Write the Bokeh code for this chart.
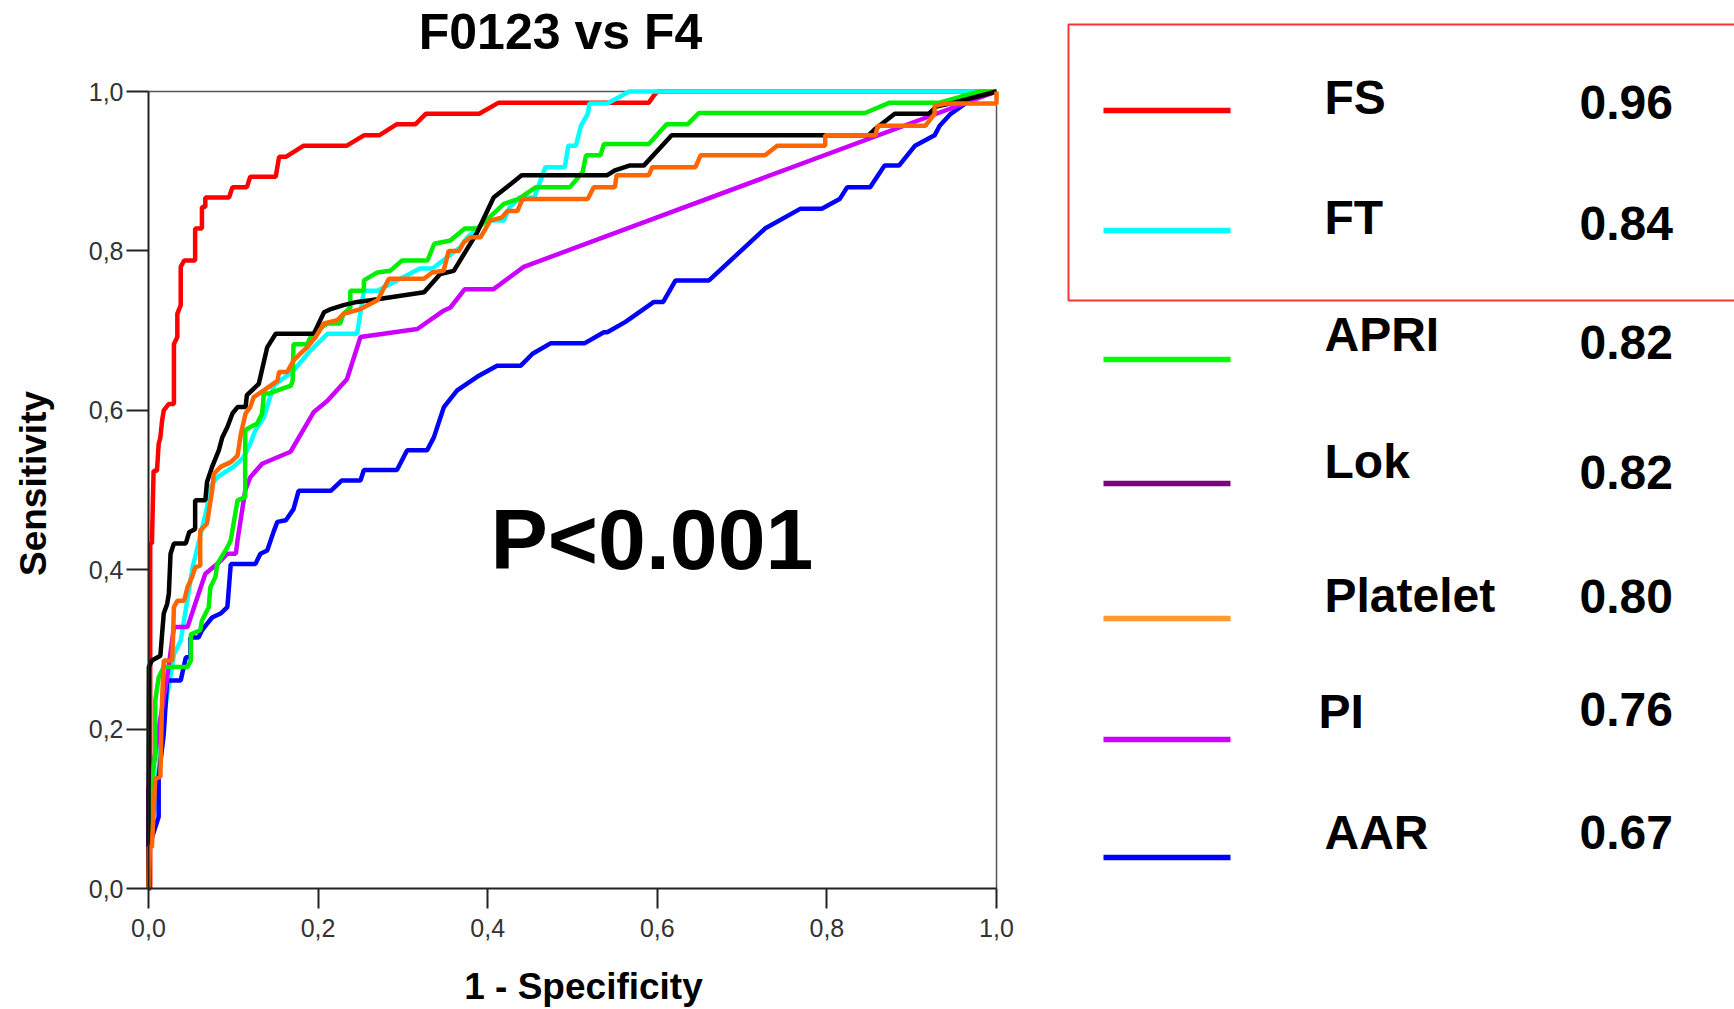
import math
from bokeh.plotting import figure
from bokeh.models import Range1d, FixedTicker, CustomJSTickFormatter, Label
from bokeh.core.properties import value
from bokeh.embed import file_html
from bokeh.resources import INLINE

FONT = "Liberation Sans"

title_text = "F0123 vs F4"
x_label = "1 - Specificity"
y_label = "Sensitivity"
tick_values = [0.0, 0.2, 0.4, 0.6, 0.8, 1.0]
p_value_text = "P<0.001"

names = ["FS", "FT", "APRI", "Lok", "Platelet", "PI", "AAR"]
auc = ["0.96", "0.84", "0.82", "0.82", "0.80", "0.76", "0.67"]
legend_colors = ["#ff0000", "#00ffff", "#00ff00", "#800080", "#ff9933", "#cc00ff", "#0000ff"]

fs_fpr = [0, 0.002, 0.002, 0.004, 0.006, 0.010, 0.012, 0.014, 0.016, 0.018, 0.024, 0.030, 0.030, 0.034, 0.034,
          0.038, 0.038, 0.042, 0.055, 0.055, 0.063, 0.063, 0.067, 0.067, 0.095, 0.099, 0.116, 0.120, 0.150, 0.154,
          0.162, 0.183, 0.234, 0.254, 0.272, 0.293, 0.315, 0.327, 0.390, 0.413, 0.590, 0.596, 0.600, 1.0]
fs_tpr = [0, 0, 0.433, 0.433, 0.524, 0.524, 0.558, 0.566, 0.587, 0.600, 0.608, 0.608, 0.683, 0.692, 0.721,
          0.732, 0.780, 0.788, 0.788, 0.828, 0.828, 0.855, 0.855, 0.867, 0.867, 0.880, 0.880, 0.893, 0.893, 0.918,
          0.918, 0.932, 0.932, 0.945, 0.945, 0.959, 0.959, 0.972, 0.972, 0.986, 0.986, 0.995, 1.0, 1.0]

ft_fpr = [0, 0.0, 0.010, 0.015, 0.025, 0.030, 0.038, 0.052, 0.055, 0.069, 0.073, 0.081, 0.100, 0.112, 0.120,
          0.126, 0.136, 0.142, 0.148, 0.171, 0.191, 0.211, 0.246, 0.254, 0.270, 0.320, 0.335, 0.368, 0.376, 0.398,
          0.419, 0.426, 0.438, 0.455, 0.468, 0.491, 0.495, 0.504, 0.510, 0.518, 0.520, 0.541, 0.567, 1.0]
ft_tpr = [0, 0.05, 0.12, 0.20, 0.26, 0.294, 0.311, 0.403, 0.416, 0.478, 0.504, 0.516, 0.529, 0.541, 0.558,
          0.575, 0.591, 0.612, 0.631, 0.650, 0.675, 0.696, 0.696, 0.750, 0.750, 0.778, 0.778, 0.805, 0.817, 0.838,
          0.838, 0.855, 0.867, 0.867, 0.905, 0.905, 0.932, 0.932, 0.957, 0.972, 0.985, 0.985, 1.0, 1.0]

apri_fpr = [0, 0.003, 0.006, 0.008, 0.008, 0.012, 0.018, 0.046, 0.050, 0.050, 0.061, 0.063, 0.071, 0.073, 0.079,
            0.081, 0.093, 0.097, 0.105, 0.114, 0.114, 0.120, 0.128, 0.134, 0.136, 0.142, 0.152, 0.168, 0.170, 0.171,
            0.187, 0.193, 0.211, 0.226, 0.230, 0.238, 0.238, 0.254, 0.254, 0.270, 0.285, 0.299, 0.329, 0.337, 0.356,
            0.373, 0.388, 0.398, 0.419, 0.436, 0.457, 0.497, 0.512, 0.516, 0.533, 0.537, 0.590, 0.611, 0.636, 0.649,
            0.845, 0.874, 0.933, 0.980, 1.0]
apri_tpr = [0, 0.10, 0.152, 0.170, 0.236, 0.265, 0.278, 0.278, 0.286, 0.319, 0.324, 0.336, 0.353, 0.378, 0.391,
            0.407, 0.428, 0.437, 0.487, 0.491, 0.575, 0.579, 0.583, 0.596, 0.621, 0.621, 0.625, 0.631, 0.637, 0.683,
            0.683, 0.696, 0.709, 0.709, 0.721, 0.729, 0.750, 0.750, 0.763, 0.773, 0.775, 0.788, 0.788, 0.809, 0.813,
            0.828, 0.828, 0.838, 0.859, 0.865, 0.880, 0.880, 0.899, 0.920, 0.920, 0.934, 0.934, 0.959, 0.959, 0.973,
            0.973, 0.986, 0.986, 1.0, 1.0]

lok_fpr = [0, 0.0, 0.0004, 0.004, 0.014, 0.016, 0.018, 0.022, 0.024, 0.026, 0.030, 0.044, 0.048, 0.055, 0.055,
           0.067, 0.069, 0.075, 0.083, 0.087, 0.093, 0.099, 0.105, 0.1145, 0.116, 0.126, 0.130, 0.140, 0.150, 0.195,
           0.207, 0.215, 0.230, 0.246, 0.262, 0.325, 0.344, 0.360, 0.3875, 0.407, 0.425, 0.440, 0.541, 0.550, 0.567,
           0.584, 0.617, 0.849, 0.857, 0.880, 0.920, 0.929, 0.950, 1.0]
lok_tpr = [0, 0.127, 0.278, 0.286, 0.292, 0.319, 0.345, 0.357, 0.370, 0.420, 0.433, 0.433, 0.447, 0.451, 0.487,
           0.487, 0.510, 0.529, 0.550, 0.566, 0.579, 0.596, 0.604, 0.604, 0.619, 0.629, 0.633, 0.679, 0.696, 0.696,
           0.723, 0.727, 0.732, 0.736, 0.738, 0.748, 0.771, 0.775, 0.823, 0.867, 0.882, 0.895, 0.895, 0.901, 0.907,
           0.907, 0.945, 0.945, 0.953, 0.972, 0.972, 0.981, 0.986, 1.0]

plt_fpr = [0, 0.0004, 0.004, 0.008, 0.014, 0.016, 0.018, 0.028, 0.030, 0.034, 0.042, 0.046, 0.0515, 0.055, 0.061,
           0.061, 0.069, 0.075, 0.077, 0.085, 0.097, 0.105, 0.109, 0.1145, 0.120, 0.124, 0.136, 0.152, 0.154, 0.1635,
           0.171, 0.179, 0.187, 0.197, 0.207, 0.2225, 0.230, 0.250, 0.270, 0.2835, 0.325, 0.3345, 0.348, 0.354, 0.366,
           0.372, 0.380, 0.3915, 0.403, 0.417, 0.423, 0.435, 0.441, 0.518, 0.525, 0.550, 0.552, 0.590, 0.594, 0.645,
           0.651, 0.727, 0.7415, 0.798, 0.798, 0.857, 0.860, 0.916, 0.927, 0.927, 0.940, 1.0, 1.0]
plt_tpr = [0, 0.052, 0.052, 0.138, 0.140, 0.236, 0.286, 0.286, 0.353, 0.361, 0.361, 0.378, 0.391, 0.403, 0.405,
           0.449, 0.458, 0.499, 0.520, 0.529, 0.535, 0.543, 0.571, 0.596, 0.604, 0.6165, 0.625, 0.637, 0.648, 0.648,
           0.6625, 0.671, 0.679, 0.692, 0.709, 0.713, 0.721, 0.727, 0.738, 0.765, 0.765, 0.773, 0.775, 0.800, 0.800,
           0.811, 0.817, 0.817, 0.838, 0.842, 0.850, 0.850, 0.865, 0.865, 0.880, 0.880, 0.895, 0.895, 0.905, 0.905,
           0.920, 0.920, 0.932, 0.932, 0.945, 0.945, 0.957, 0.957, 0.972, 0.982, 0.985, 0.985, 1.0]

pi_fpr = [0, 0.0, 0.0, 0.002, 0.008, 0.015, 0.022, 0.030, 0.046, 0.055, 0.067, 0.081, 0.093, 0.103, 0.105,
          0.114, 0.120, 0.134, 0.1675, 0.195, 0.211, 0.234, 0.250, 0.317, 0.348, 0.356, 0.373, 0.407, 0.4425, 1.0]
pi_tpr = [0, 0.056, 0.127, 0.127, 0.170, 0.220, 0.265, 0.328, 0.328, 0.357, 0.395, 0.407, 0.420, 0.420, 0.437,
          0.499, 0.516, 0.533, 0.548, 0.598, 0.612, 0.639, 0.692, 0.702, 0.725, 0.729, 0.752, 0.752, 0.780, 1.0]

aar_fpr = [0, 0.0004, 0.012, 0.012, 0.018, 0.022, 0.038, 0.044, 0.0495, 0.0495, 0.059, 0.063, 0.069, 0.075, 0.085,
           0.093, 0.097, 0.126, 0.132, 0.140, 0.148, 0.152, 0.162, 0.171, 0.177, 0.215, 0.228, 0.250, 0.254, 0.293,
           0.305, 0.3286, 0.3365, 0.3483, 0.364, 0.3875, 0.411, 0.439, 0.4529, 0.474, 0.514, 0.537, 0.541, 0.5625,
           0.596, 0.607, 0.6215, 0.661, 0.727, 0.769, 0.794, 0.815, 0.824, 0.851, 0.868, 0.885, 0.904, 0.927, 0.933,
           0.946, 0.970, 1.0]
aar_tpr = [0, 0.052, 0.090, 0.140, 0.194, 0.261, 0.261, 0.290, 0.290, 0.315, 0.315, 0.324, 0.332, 0.340, 0.345,
           0.353, 0.407, 0.407, 0.420, 0.424, 0.449, 0.460, 0.462, 0.476, 0.499, 0.499, 0.512, 0.512, 0.525, 0.525,
           0.550, 0.550, 0.566, 0.604, 0.625, 0.642, 0.656, 0.656, 0.671, 0.684, 0.684, 0.698, 0.698, 0.711,
           0.736, 0.736, 0.763, 0.763, 0.828, 0.853, 0.853, 0.865, 0.880, 0.880, 0.907, 0.907, 0.932, 0.945, 0.957,
           0.972, 0.990, 1.0]

# draw order (bottom to top) and plotted colours
curves = [
    (fs_fpr, fs_tpr, "#ff0000"),
    (ft_fpr, ft_tpr, "#00ffff"),
    (aar_fpr, aar_tpr, "#0000ff"),
    (pi_fpr, pi_tpr, "#cc00ff"),
    (apri_fpr, apri_tpr, "#00ee00"),
    (lok_fpr, lok_tpr, "#000000"),
    (plt_fpr, plt_tpr, "#ff6600"),
]

# ---- layout (canvas pixels) ----
W, H = 1734, 1009
BL, BR, BT, BB = 148, 996, 91, 888   # edges of the ROC box (0..1)
legend_line_y = [110, 230, 359, 483, 618, 739, 857]
legend_label_y = [97, 217, 334, 461, 595, 711, 832]
legend_value_y = [102, 223, 342, 472, 596, 709, 832]
legend_label_x = [1324, 1324, 1324, 1324, 1324, 1318, 1324]


def dx(px):
    return (px - BL) / (BR - BL)


def dy(py):
    return (BB - py) / (BB - BT)


# the frame covers the whole canvas; the axes are pinned to 0
p = figure(width=W, height=H, x_range=Range1d(dx(0), dx(W)), y_range=Range1d(dy(H), dy(0)),
           output_backend="svg", toolbar_location=None, min_border=0)
p.background_fill_color = "white"
p.border_fill_color = "white"
p.outline_line_color = None
p.grid.visible = False

fmt = CustomJSTickFormatter(code="return tick.toFixed(1).replace('.', ',');")
for ax in (p.xaxis[0], p.yaxis[0]):
    ax.fixed_location = 0
    ax.ticker = FixedTicker(ticks=tick_values)
    ax.bounds = (0, 1)
    ax.formatter = fmt
    ax.minor_tick_line_color = None
    ax.major_tick_in = 0
    ax.major_tick_out = 20
    ax.major_tick_line_color = "#222222"
    ax.major_tick_line_width = 2
    ax.axis_line_color = "#222222"
    ax.axis_line_width = 2
    ax.major_label_text_font = FONT
    ax.major_label_text_font_size = "25px"
    ax.major_label_text_color = "#333333"
p.xaxis.major_label_standoff = 10
p.yaxis.major_label_standoff = 3
p.yaxis.major_tick_out = 22

# top and right edges of the ROC box
p.line([0, 1], [1, 1], line_color="#555555", line_width=1.5)
p.line([1, 1], [0, 1], line_color="#555555", line_width=1.5)

for fx, ty, col in curves:
    p.line(fx, ty, line_color=col, line_width=4.5)


def label(px, py, text, size, angle=0.0, align="center"):
    p.add_layout(Label(x=dx(px), y=dy(py), text=text, text_font=FONT, text_font_size=size,
                       text_font_style="bold", text_baseline="middle", text_align=align,
                       text_color="black", angle=angle))


label(560, 31, title_text, "50px")
label(583, 986, x_label, "37px")
label(33, 483, y_label, "37px", angle=math.pi / 2)
label(490, 538, p_value_text, "86px", align="left")

# legend
n = len(names)
p.segment(x0=[dx(1103)] * n, y0=[dy(r) for r in legend_line_y], x1=[dx(1230)] * n,
          y1=[dy(r) for r in legend_line_y], line_color=legend_colors, line_width=5.5)
p.text(x=[dx(v) for v in legend_label_x], y=[dy(r) for r in legend_label_y], text=names,
       text_font=value(FONT), text_font_style=value("bold"), text_font_size=value("48px"),
       text_baseline="middle", text_align="left", text_color="black")
p.text(x=[dx(1579)] * n, y=[dy(r) for r in legend_value_y], text=auc, text_font=value(FONT),
       text_font_style=value("bold"), text_font_size=value("48px"), text_baseline="middle",
       text_align="left", text_color="black")
p.quad(left=[dx(1068)], right=[dx(1780)], top=[dy(24)], bottom=[dy(300)],
       fill_color=None, line_color="#ff3333", line_width=2)

open("out.html", "w").write(file_html(p, INLINE))
